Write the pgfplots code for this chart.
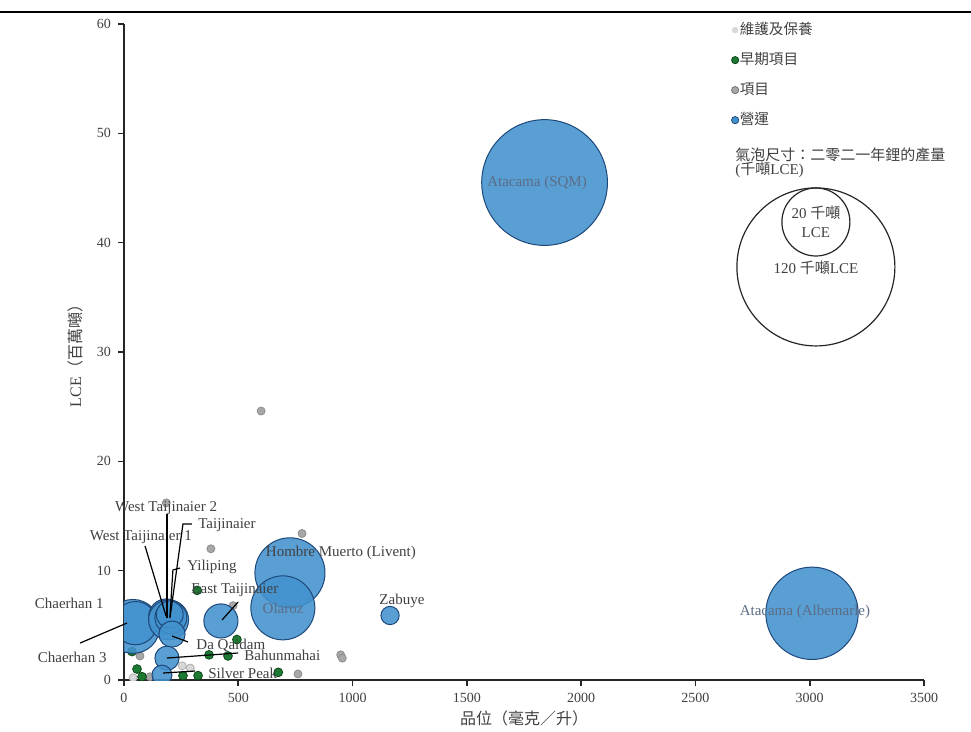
\documentclass[border=0pt]{standalone}
\usepackage{pgfplots}
\pgfplotsset{compat=1.18}
\usepackage{pgfplotstable}
\usepackage{fontspec}
\setmainfont{Liberation Serif}
\newfontfamily\cjk{Noto Sans CJK TC}

\definecolor{opfill}{RGB}{66,146,206}
\definecolor{opedge}{RGB}{30,72,122}
\definecolor{grfill}{RGB}{30,122,50}
\definecolor{gredge}{RGB}{10,70,25}
\definecolor{pjfill}{RGB}{168,168,168}
\definecolor{pjedge}{RGB}{140,140,140}
\definecolor{mtfill}{RGB}{216,216,216}
\definecolor{txt}{RGB}{64,64,64}
\definecolor{inb}{RGB}{92,108,134}

\tikzset{
  lab/.style={font=\fontsize{7.5}{9}\selectfont, text=txt, inner sep=0.5pt},
  inlab/.style={font=\fontsize{7.5}{9}\selectfont, text=inb, inner sep=0.5pt},
}

% operating: grade (mg/L), resource (Mt LCE), 2021 production (kt LCE)
\pgfplotstableread{
x y p
1840 45.5 76
3010 6.1 41
726 9.8 23.6
695 6.6 19.7
1164 5.9 1.6
424 5.4 5.6
39 4.9 14
50 5.2 9
185 5.8 6.0
195 5.5 7.7
205 5.7 4.9
200 6.0 3.5
210 4.2 3.3
188 2.0 2.8
166 0.45 1.9
}\opdata
\pgfplotstableread{
x y
600 24.6
185 16.2
779 13.4
380 12.0
477 6.8
948 2.3
955 2.0
761 0.55
70 2.2
114 0.3
}\pjdata
\pgfplotstableread{
x y
255 1.3
290 1.1
40 0.2
}\mtdata
\pgfplotstableread{
x y
320 8.2
494 3.7
372 2.3
455 2.2
675 0.7
258 0.4
324 0.4
57 1.0
35 2.6
79 0.3
}\grdata

\begin{document}
\begin{tikzpicture}
\begin{axis}[name=ax, scale only axis, width=400pt, height=328pt,
  xmin=0, xmax=3500, ymin=0, ymax=60,
  xtick={0,500,...,3500}, ytick={0,10,...,60},
  axis x line*=bottom, axis y line*=left,
  axis line style={-, line width=0.8pt, black!85},
  tick style={line width=0.8pt, black!85},
  tick align=outside, major tick length=3pt,
  tick label style={font=\fontsize{7}{8}\selectfont, text=txt},
  /pgf/number format/assume math mode=true,
  /pgf/number format/1000 sep={},
  scaled ticks=false,
  clip mode=individual,
  clip marker paths=true,
  xlabel={\cjk 品位（毫克／升）},
  ylabel={LCE{\cjk（百萬噸）}},
  every axis x label/.style={at={(axis description cs:0.5,-0.058)}, anchor=center, font=\fontsize{8}{9}\selectfont, text=txt},
  every axis y label/.style={at={(axis description cs:-0.0612,0.5)}, anchor=center, rotate=90, font=\fontsize{8}{9}\selectfont, text=txt},
  legend style={at={(axis cs:2630,60.6)}, anchor=north west, draw=none, fill=none,
    font=\cjk\fontsize{7.3}{8}\selectfont, text=txt, row sep=6.7pt,
    nodes={inner sep=0.5pt, text height=6pt, text depth=1.3pt}},
  legend cell align=left,
  legend image code/.code={\draw[#1] plot coordinates {(2pt,0pt)};},
]
% small points
\addplot[only marks, mark=*, mark size=2pt, draw=pjedge, fill=pjfill, forget plot] table[x=x,y=y] {\pjdata};
\addplot[only marks, mark=*, mark size=2pt, draw=mtfill!80!black, fill=mtfill, forget plot] table[x=x,y=y] {\mtdata};
\addplot[only marks, mark=*, mark size=2.2pt, draw=gredge, fill=grfill, forget plot] table[x=x,y=y] {\grdata};
% bubbles
\addplot[scatter, only marks, mark=*, forget plot,
  scatter/use mapped color={draw=opedge, fill=opfill},
  mark options={fill opacity=0.88, line width=0.5pt},
  visualization depends on={\thisrow{p} \as \prodv},
  scatter/@pre marker code/.append style={/tikz/mark size={39.5*sqrt(\prodv/120)}}]
  table[x=x,y=y] {\opdata};

% legend
\addlegendimage{only marks, mark=*, mark size=1.4pt, draw=mtfill, fill=mtfill}
\addlegendentry{維護及保養}
\addlegendimage{only marks, mark=*, mark size=1.8pt, draw=gredge, fill=grfill}
\addlegendentry{早期項目}
\addlegendimage{only marks, mark=*, mark size=1.8pt, draw=pjedge!80!black, fill=pjfill}
\addlegendentry{項目}
\addlegendimage{only marks, mark=*, mark size=1.8pt, draw=opedge, fill=opfill}
\addlegendentry{營運}

\node[anchor=west, font=\cjk\fontsize{7.5}{9}\selectfont, text=txt, inner sep=0pt] at (axis cs:2673,48.02) {氣泡尺寸：二零二一年鋰的產量};
\node[anchor=west, font=\fontsize{7.5}{9}\selectfont, text=txt, inner sep=0pt] at (axis cs:2673,46.65) {({\cjk 千噸}LCE)};
\draw[line width=0.6pt, black!85] (axis cs:3027,37.78) circle[radius=39.5pt];
\draw[line width=0.6pt, black!85] (axis cs:3027,41.89) circle[radius=17pt];
\node[lab] at (axis cs:3027,42.71) {20 {\cjk 千噸}};
\node[lab] at (axis cs:3027,40.88) {LCE};
\node[lab] at (axis cs:3027,37.68) {120 {\cjk 千噸}LCE};

% labels
\node[inlab] at (axis cs:1807,45.5) {Atacama (SQM)};
\node[inlab] at (axis cs:2979,6.2) {Atacama (Albemarle)};
\node[inlab] at (axis cs:696,6.59) {Olaroz};
\node[lab] at (axis cs:949,11.6) {Hombre Muerto (Livent)};
\node[lab] at (axis cs:1216,7.2) {Zabuye};
\node[lab, anchor=west] at (axis cs:289,8.23) {East Taijinaier};
\node[lab, anchor=west] at (axis cs:311,3.2) {Da Qaidam};
\node[lab, anchor=west] at (axis cs:521,2.29) {Bahunmahai};
\node[lab, anchor=west] at (axis cs:363,0.64) {Silver Peak};
\node[lab, anchor=east] at (axis cs:-83,7.04) {Chaerhan 1};
\node[lab, anchor=east] at (axis cs:-70,2.10) {Chaerhan 3};
\node[lab] at (axis cs:184,15.73) {West Taijinaier 2};
\node[lab, anchor=west] at (axis cs:319,14.18) {Taijinaier};
\node[lab] at (axis cs:74,13.08) {West Taijinaier 1};
\node[lab, anchor=west] at (axis cs:271,10.34) {Yiliping};

% leader lines
\begin{scope}[line width=0.6pt, black]
\draw (axis cs:-192,3.38) -- (axis cs:13,5.21);
\draw (axis cs:188,15.2) -- (axis cs:188,5.67);
\draw (axis cs:201,5.67) -- (axis cs:258,14.27) -- (axis cs:297,14.27);
\draw (axis cs:92,12.26) -- (axis cs:184,5.85);
\draw (axis cs:201,5.76) -- (axis cs:214,10.06) -- (axis cs:245,10.24);
\draw (axis cs:429,5.49) -- (axis cs:499,7.13);
\draw (axis cs:210,4.02) -- (axis cs:280,3.48);
\draw (axis cs:188,2.01) -- (axis cs:499,2.47);
\draw (axis cs:171,0.64) -- (axis cs:311,0.82);
\end{scope}
\end{axis}
\draw[line width=1.1pt] ([xshift=-62pt,yshift=6pt]ax.north west) -- ([xshift=23.5pt,yshift=6pt]ax.north east);
\pgfresetboundingbox
\path ([xshift=-62pt,yshift=-25.5pt]ax.south west) rectangle ([xshift=23.5pt,yshift=12pt]ax.north east);
\end{tikzpicture}
\end{document}
